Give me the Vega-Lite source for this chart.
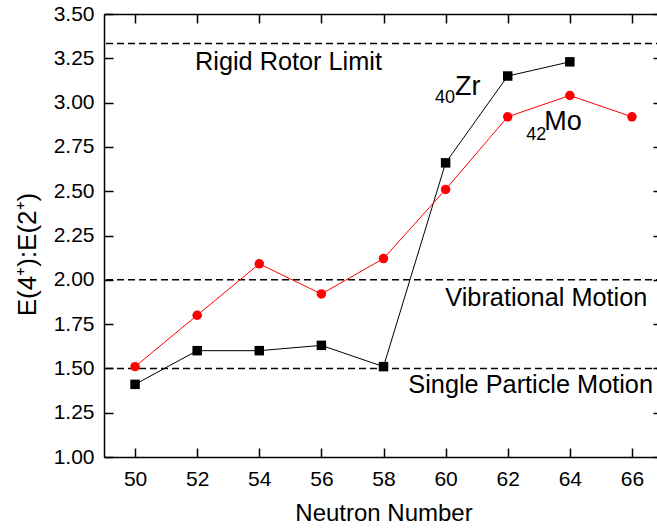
{
  "$schema": "https://vega.github.io/schema/vega-lite/v6.json",
  "width": 559,
  "height": 443,
  "autosize": "none",
  "padding": {"left": 104, "top": 14, "right": 0, "bottom": 74},
  "background": "white",
  "config": {
    "font": "Liberation Sans",
    "view": {"stroke": null},
    "axis": {
      "grid": false,
      "domainColor": "black",
      "domainWidth": 1.5,
      "tickColor": "black",
      "tickWidth": 1.5,
      "tickSize": 9,
      "labelFont": "Liberation Sans",
      "labelFontSize": 21,
      "labelColor": "black",
      "titleFont": "Liberation Sans",
      "titleFontSize": 24,
      "titleFontWeight": "normal",
      "titleColor": "black"
    }
  },
  "datasets": {
    "series": [
      {"nucleus": "Zr", "N": 50, "ratio": 1.41},
      {"nucleus": "Zr", "N": 52, "ratio": 1.60},
      {"nucleus": "Zr", "N": 54, "ratio": 1.60},
      {"nucleus": "Zr", "N": 56, "ratio": 1.63},
      {"nucleus": "Zr", "N": 58, "ratio": 1.51},
      {"nucleus": "Zr", "N": 60, "ratio": 2.66},
      {"nucleus": "Zr", "N": 62, "ratio": 3.15},
      {"nucleus": "Zr", "N": 64, "ratio": 3.23},
      {"nucleus": "Mo", "N": 50, "ratio": 1.51},
      {"nucleus": "Mo", "N": 52, "ratio": 1.80},
      {"nucleus": "Mo", "N": 54, "ratio": 2.09},
      {"nucleus": "Mo", "N": 56, "ratio": 1.92},
      {"nucleus": "Mo", "N": 58, "ratio": 2.12},
      {"nucleus": "Mo", "N": 60, "ratio": 2.51},
      {"nucleus": "Mo", "N": 62, "ratio": 2.92},
      {"nucleus": "Mo", "N": 64, "ratio": 3.04},
      {"nucleus": "Mo", "N": 66, "ratio": 2.92}
    ],
    "limits": [
      {"limit": "Rigid Rotor Limit", "ratio": 3.333},
      {"limit": "Vibrational Motion", "ratio": 2.0},
      {"limit": "Single Particle Motion", "ratio": 1.5}
    ],
    "annotations": [
      {"label": "Rigid Rotor Limit", "N": 51.93, "ratio": 3.229},
      {"label": "Vibrational Motion", "N": 59.99, "ratio": 1.897},
      {"label": "Single Particle Motion", "N": 58.80, "ratio": 1.406}
    ],
    "names": [
      {"label": "Zr", "N": 60.30, "ratio": 3.088},
      {"label": "Mo", "N": 63.18, "ratio": 2.891}
    ],
    "subscripts": [
      {"label": "40", "N": 59.66, "ratio": 3.026},
      {"label": "42", "N": 62.60, "ratio": 2.817}
    ]
  },
  "layer": [
    {
      "data": {"name": "limits"},
      "mark": {"type": "rule", "color": "black", "strokeWidth": 1.5, "strokeDash": [7, 4]},
      "encoding": {
        "y": {"field": "ratio", "type": "quantitative", "axis": null}
      }
    },
    {
      "data": {"name": "series"},
      "mark": {"type": "line", "strokeWidth": 1},
      "encoding": {
        "x": {
          "field": "N", "type": "quantitative",
          "scale": {"domain": [49, 67], "nice": false, "zero": false},
          "axis": {"orient": "bottom", "values": [50, 52, 54, 56, 58, 60, 62, 64, 66], "ticks": false, "title": "Neutron Number", "labelPadding": 11, "titlePadding": 12}
        },
        "y": {
          "field": "ratio", "type": "quantitative",
          "scale": {"domain": [1, 3.5], "nice": false, "zero": false},
          "axis": {"orient": "left", "values": [1, 1.25, 1.5, 1.75, 2, 2.25, 2.5, 2.75, 3, 3.25, 3.5], "format": ".2f", "ticks": false, "title": "E(4⁺):E(2⁺)", "titleFontSize": 26, "labelPadding": 10, "titlePadding": 13, "titleY": 240}
        },
        "color": {"field": "nucleus", "type": "nominal", "scale": {"domain": ["Zr", "Mo"], "range": ["black", "#ff0000"]}, "legend": null}
      }
    },
    {
      "data": {"name": "series"},
      "mark": {"type": "point", "filled": true, "opacity": 1, "size": 90},
      "encoding": {
        "x": {
          "field": "N", "type": "quantitative",
          "axis": {"orient": "top", "offset": -443, "values": [50, 52, 54, 56, 58, 60, 62, 64, 66], "domain": false, "labels": false, "title": null}
        },
        "y": {
          "field": "ratio", "type": "quantitative",
          "axis": {"orient": "right", "offset": -559, "values": [1, 1.25, 1.5, 1.75, 2, 2.25, 2.5, 2.75, 3, 3.25, 3.5], "domain": false, "labels": false, "title": null}
        },
        "color": {"field": "nucleus", "type": "nominal", "scale": {"domain": ["Zr", "Mo"], "range": ["black", "#ff0000"]}, "legend": null},
        "shape": {"field": "nucleus", "type": "nominal", "scale": {"domain": ["Zr", "Mo"], "range": ["square", "circle"]}, "legend": null}
      }
    },
    {
      "data": {"name": "annotations"},
      "mark": {"type": "text", "fontSize": 25.3, "align": "left", "baseline": "middle", "color": "black"},
      "encoding": {
        "x": {
          "field": "N", "type": "quantitative",
          "axis": {"orient": "bottom", "offset": -443, "values": [50, 52, 54, 56, 58, 60, 62, 64, 66], "labels": false, "title": null}
        },
        "y": {"field": "ratio", "type": "quantitative", "axis": null},
        "text": {"field": "label"}
      }
    },
    {
      "data": {"name": "names"},
      "mark": {"type": "text", "fontSize": 27, "align": "left", "baseline": "middle", "color": "black"},
      "encoding": {
        "x": {"field": "N", "type": "quantitative", "axis": null},
        "y": {
          "field": "ratio", "type": "quantitative",
          "axis": {"orient": "left", "offset": -553, "tickSize": 4, "domain": false, "values": [1, 1.25, 1.5, 1.75, 2, 2.25, 2.5, 2.75, 3, 3.25, 3.5], "labels": false, "title": null}
        },
        "text": {"field": "label"}
      }
    },
    {
      "data": {"name": "subscripts"},
      "mark": {"type": "text", "fontSize": 18, "align": "left", "baseline": "middle", "color": "black"},
      "encoding": {
        "x": {"field": "N", "type": "quantitative", "axis": null},
        "y": {"field": "ratio", "type": "quantitative", "axis": null},
        "text": {"field": "label"}
      }
    }
  ],
  "resolve": {"axis": {"x": "independent", "y": "independent"}}
}
